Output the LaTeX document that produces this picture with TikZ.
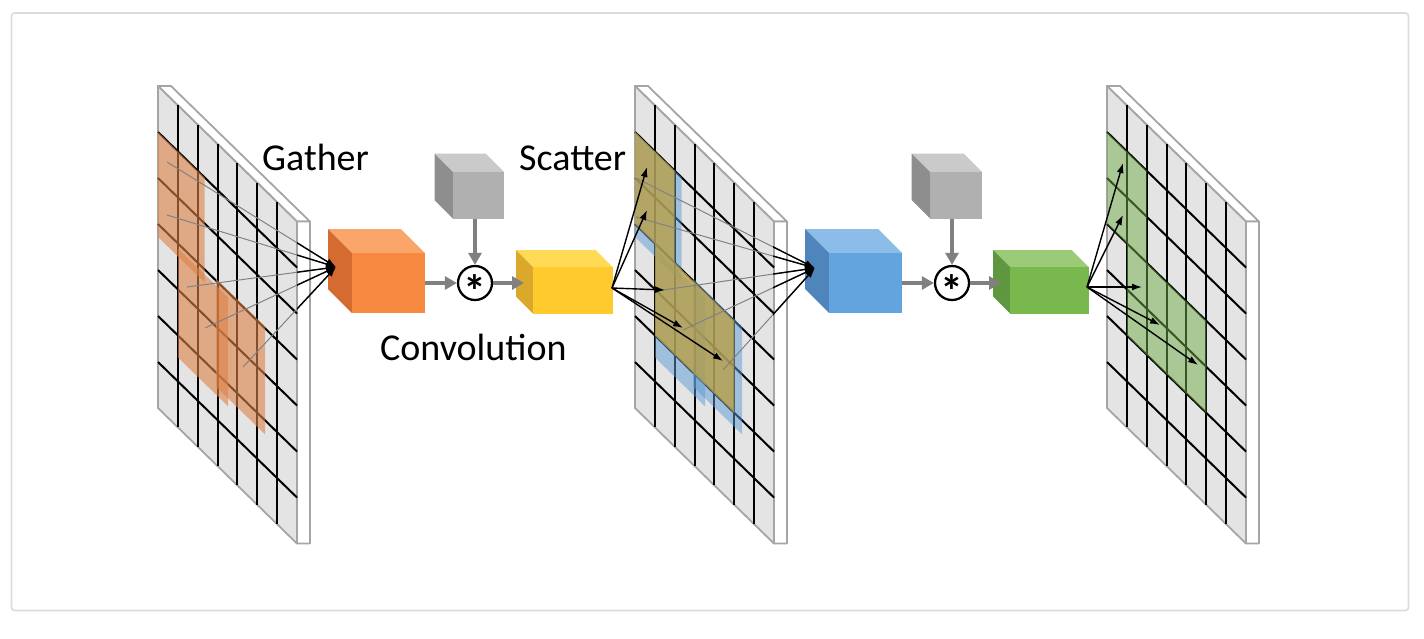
\documentclass[tikz,border=0pt]{standalone}
\usepackage{fontspec}
\setmainfont{Carlito}
\usetikzlibrary{arrows.meta}
\definecolor{framegray}{RGB}{220,220,220}
\definecolor{facegray}{RGB}{228,228,228}
\definecolor{edgegray}{RGB}{165,165,165}
\definecolor{thingray}{RGB}{130,130,130}
\definecolor{arrowgray}{RGB}{128,128,128}
\definecolor{patchorange}{RGB}{222,130,70}
\definecolor{patchblue}{RGB}{91,155,213}
\definecolor{patcholive}{RGB}{185,158,68}
\definecolor{patchgreen}{RGB}{112,173,71}
\definecolor{orF}{RGB}{247,138,64}
\definecolor{orT}{RGB}{250,166,106}
\definecolor{orL}{RGB}{212,108,50}
\definecolor{grF}{RGB}{176,176,176}
\definecolor{grT}{RGB}{202,202,202}
\definecolor{grL}{RGB}{142,142,142}
\definecolor{yeF}{RGB}{255,202,46}
\definecolor{yeT}{RGB}{255,218,85}
\definecolor{yeL}{RGB}{218,168,43}
\definecolor{blF}{RGB}{98,164,221}
\definecolor{blT}{RGB}{139,189,232}
\definecolor{blL}{RGB}{79,133,186}
\definecolor{gnF}{RGB}{120,184,77}
\definecolor{gnT}{RGB}{156,203,120}
\definecolor{gnL}{RGB}{95,150,64}
\tikzset{
  gridline/.style={draw=black, line width=2pt},
  planeedge/.style={draw=edgegray, line width=1.8pt, line join=round},
  gatherthin/.style={draw=thingray, line width=1pt},
  blackarrow/.style={draw=black, line width=1.4pt, -{Latex[length=10pt,width=7pt]}},
  grayarrow/.style={draw=arrowgray, line width=3.4pt, -{Triangle[length=12pt,width=13pt]}},
  opcircle/.style={circle, draw=black, line width=2.3pt, minimum size=34pt, inner sep=0pt, fill=white},
  asterisk/.style={inner sep=0pt, anchor=base, font=\fontsize{46}{46}\selectfont\bfseries},
  txtlabel/.style={font=\fontsize{38}{44}\selectfont, inner sep=0pt, anchor=base west},
  cubefront/.style={inner sep=0pt, outer sep=0pt, anchor=north west},
  opatch/.style={fill=patchorange, fill opacity=0.6},
  bpatch/.style={fill=patchblue, fill opacity=0.5},
  ypatch/.style={fill=patcholive, fill opacity=0.78},
  gpatch/.style={fill=patchgreen, fill opacity=0.5},
}
% patch in plane coordinates: style, u1, v1, u2, v2
\newcommand\inpatch[5]{\fill[#1] (#2,#3) -- (#4,#3) -- (#4,#5) -- (#2,#5) -- cycle;}
% plane: x offset, patch code
\newcommand\gridplane[2]{%
  \begin{scope}[shift={(#1pt,-86pt)}, x={(1pt,-0.975pt)}, y={(0pt,-1pt)}]
    \filldraw[planeedge, fill=white] (0,0) -- (13,-12.675) -- (152,-12.675) -- (139,0) -- cycle;
    \filldraw[planeedge, fill=white] (139,0) -- (152,-12.675) -- (152,309.325) -- (139,322) -- cycle;
    \filldraw[planeedge, fill=facegray] (0,0) -- (139,0) -- (139,322) -- (0,322) -- cycle;
    \foreach \k in {1,...,6} {
      \draw[gridline] (\k*19.857,0) -- (\k*19.857,322);
      \draw[gridline] (0,\k*46) -- (139,\k*46);
    }
    #2
  \end{scope}}
% cube: name, x1, y1, w, h, d, front, top, left
\newcommand\cubebox[9]{%
  \fill[#8] (#2,#3) -- ++(#4,0) -- ++(-#6,-#6) -- ++(-#4,0) -- cycle;
  \fill[#9] (#2,#3) -- ++(0,#5) -- ++(-#6,-#6) -- ++(0,-#5) -- cycle;
  \node[cubefront, fill=#7, minimum width=#4pt, minimum height=#5pt] (#1) at (#2,#3) {};}
\begin{document}
\begin{tikzpicture}[x=1pt, y=-1pt]
\useasboundingbox (0,0) rectangle (1424,638);
\draw[framegray, line width=1.6pt, rounded corners=3pt] (11.5,13) rectangle (1408.5,610.5);

% planes
\gridplane{158}{%
  \inpatch{opatch}{0}{46}{46.7}{151}
  \inpatch{opatch}{20}{143}{70}{252}
  \inpatch{opatch}{58}{136}{107}{244}}
\gridplane{635}{%
  \inpatch{bpatch}{0}{46}{46.7}{151}
  \inpatch{bpatch}{20}{143}{70}{252}
  \inpatch{bpatch}{58}{136}{107}{244}
  \inpatch{ypatch}{0}{46}{39.7}{138}
  \inpatch{ypatch}{19.86}{138}{99.3}{230}}
\gridplane{1107}{%
  \inpatch{gpatch}{0}{46}{39.7}{138}
  \inpatch{gpatch}{19.86}{138}{99.3}{230}}

% points in planes
\coordinate (g1) at (167,162);
\coordinate (g2) at (167,215);
\coordinate (g3) at (187,287);
\coordinate (g4) at (205,328);
\coordinate (g5) at (243,367);
\coordinate (h1) at (636,178);
\coordinate (h2) at (636,217);
\coordinate (h3) at (663,290);
\coordinate (h4) at (683,330);
\coordinate (h5) at (723,370);
\coordinate (s1) at (647,167);
\coordinate (s2) at (647,210);
\coordinate (s3) at (665,290);
\coordinate (s4) at (683,328);
\coordinate (s5) at (723,361);
\coordinate (t1) at (1123,163);
\coordinate (t2) at (1123,215);
\coordinate (t3) at (1142,287);
\coordinate (t4) at (1160,325);
\coordinate (t5) at (1198,365);
\coordinate (orangeL) at (336,267);
\coordinate (blueL) at (815,268);
\coordinate (yellowR) at (612,288);
\coordinate (greenR) at (1087,287);
\coordinate (yellowL) at (524,283);
\coordinate (greenL) at (1001,283);

% thin gather lines over the planes
\foreach \p in {g1,g2,g3,g4,g5} \draw[gatherthin] (\p) -- (orangeL);
\foreach \p in {h1,h2,h3,h4,h5} \draw[gatherthin] (\p) -- (blueL);

% cubes
\cubebox{orange}{352}{253}{73}{60}{24}{orF}{orT}{orL}
\cubebox{kernelA}{453}{172}{51}{46.5}{18.5}{grF}{grT}{grL}
\cubebox{yellow}{533}{267}{79.5}{46.5}{17}{yeF}{yeT}{yeL}
\cubebox{blue}{829}{253}{73}{60}{24}{blF}{blT}{blL}
\cubebox{kernelB}{930}{172}{52}{46.5}{18.5}{grF}{grT}{grL}
\cubebox{green}{1010}{267}{78.5}{46.5}{17}{gnF}{gnT}{gnL}

% black parts of gather arrows
\begin{scope}
  \clip (297,0) rectangle (352,638);
  \foreach \p in {g1,g2,g3,g4,g5} \draw[blackarrow] (\p) -- (orangeL);
\end{scope}
\begin{scope}
  \clip (773,0) rectangle (829,638);
  \foreach \p in {h1,h2,h3,h4,h5} \draw[blackarrow] (\p) -- (blueL);
\end{scope}

% scatter arrows
\foreach \p in {s1,s2,s3,s4,s5} \draw[blackarrow] (yellowR) -- (\p);
\foreach \p in {t1,t2,t3,t4,t5} \draw[blackarrow] (greenR) -- (\p);

% convolution operators
\node[opcircle] (op1) at (475,283) {};
\node[opcircle] (op2) at (952,283) {};
\node[asterisk] (ast1) at ([yshift=-24pt]op1.center) {*};
\node[asterisk] (ast2) at ([yshift=-24pt]op2.center) {*};
\draw[grayarrow] (orange.east) -- (op1.west);
\draw[grayarrow] (kernelA.south -| op1) -- (op1.north);
\draw[grayarrow] (op1.east) -- (yellowL);
\draw[grayarrow] (blue.east) -- (op2.west);
\draw[grayarrow] (kernelB.south -| op2) -- (op2.north);
\draw[grayarrow] (op2.east) -- (greenL);

% labels
\node[txtlabel] (gather) at (262,170) {Gather};
\node[txtlabel] (scatter) at (519,170) {Scatter};
\node[txtlabel] (conv) at (380,360) {Convolution};
\end{tikzpicture}
\end{document}
